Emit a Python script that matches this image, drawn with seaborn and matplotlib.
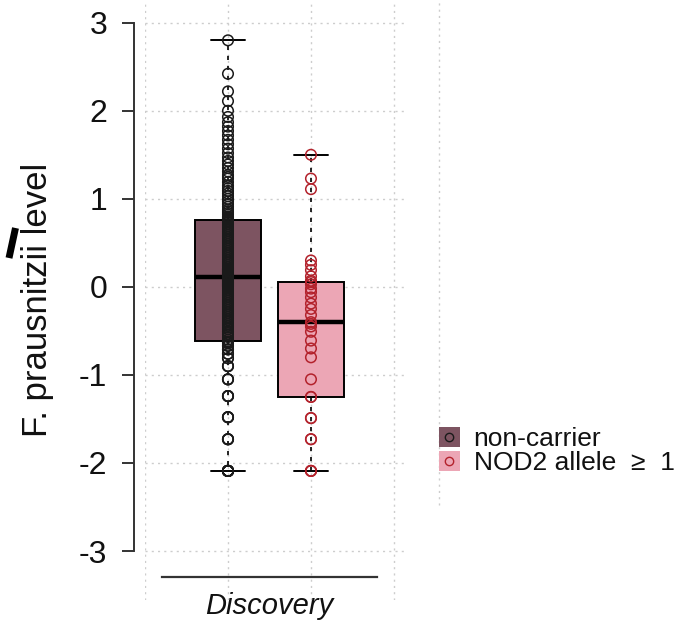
import matplotlib
matplotlib.use("Agg")
import matplotlib.pyplot as plt
from matplotlib.lines import Line2D
from matplotlib.patches import Patch
from matplotlib.legend_handler import HandlerTuple
import pandas as pd
import seaborn as sns

# ---- data -------------------------------------------------------------
cohort = "Discovery"
groups = ["non-carrier", "NOD2 allele  \u2265  1"]

non_carrier = [
    2.80, 2.42, 2.22, 2.11, 2.00, 1.93, 1.87, 1.82, 1.77, 1.72,
    1.67, 1.62, 1.57, 1.52, 1.47, 1.43, 1.39, 1.35, 1.31, 1.27,
    1.25, 1.23, 1.19, 1.15, 1.12, 1.09, 1.06, 1.03, 1.00, 0.97,
    0.94, 0.91, 0.88, 0.86, 0.84, 0.82, 0.80, 0.79, 0.78, 0.77,
    0.765,
    0.75, 0.73, 0.71, 0.69, 0.67, 0.65, 0.63, 0.61, 0.59, 0.57,
    0.55, 0.53, 0.51, 0.49, 0.47, 0.45, 0.43, 0.41, 0.39, 0.37,
    0.35, 0.33, 0.31, 0.29, 0.27, 0.25, 0.23, 0.21, 0.20, 0.19,
    0.18, 0.17, 0.16, 0.15, 0.14, 0.13, 0.125, 0.12, 0.115,
    0.11,
    0.10, 0.09, 0.08, 0.07, 0.06, 0.05, 0.04, 0.03, 0.02, 0.01,
    0.00, -0.02, -0.04, -0.06, -0.08, -0.10, -0.12, -0.14, -0.16, -0.18,
    -0.20, -0.22, -0.24, -0.26, -0.28, -0.30, -0.32, -0.34, -0.36, -0.38,
    -0.40, -0.42, -0.44, -0.46, -0.48, -0.51, -0.54, -0.57, -0.60,
    -0.62,
    -0.63, -0.64, -0.67, -0.67, -0.71, -0.71, -0.76, -0.76, -0.81, -0.81,
    -0.90, -0.90, -0.90, -1.05, -1.05, -1.05, -1.24, -1.24, -1.24, -1.24,
    -1.48, -1.48, -1.48, -1.48, -1.73, -1.73, -1.73, -1.73,
    -2.09, -2.09, -2.09, -2.09, -2.09, -2.09,
    -2.09, -2.09, -2.09, -2.09, -2.09, -2.09,
]

nod2_carrier = [
    1.50, 1.23, 1.11, 0.30, 0.25, 0.19, 0.12, 0.07,
    0.055,
    0.03, -0.02, -0.06, -0.12, -0.19, -0.25, -0.32,
    -0.40,
    -0.42, -0.45, -0.51, -0.61, -0.70, -0.80, -1.05,
    -1.25,
    -1.25, -1.49, -1.49, -1.73, -1.73, -2.09, -2.09, -2.09,
]

y_ticks = [-3, -2, -1, 0, 1, 2, 3]

# ---- styling ------------------------------------------------------------
box_fill = ["#7d5461", "#eca6b5"]
point_edge = ["#1a1a1a", "#b3222c"]
grid_color = "#cdcdcd"
grid_style = (0, (1.5, 3))
axis_color = "#333333"
text_color = "#111111"

sns.set_theme(style="ticks")
plt.rcParams["font.family"] = ["Liberation Sans", "DejaVu Sans"]
plt.rcParams["axes.unicode_minus"] = False

df = pd.DataFrame({
    "cohort": cohort,
    "genotype": [groups[0]] * len(non_carrier) + [groups[1]] * len(nod2_carrier),
    "level": non_carrier + nod2_carrier,
})

W, H = 677, 620
fig = plt.figure(figsize=(W / 100, H / 100), dpi=100)
ax = fig.add_axes([145 / W, 20 / H, 261 / W, 600 / H])

sns.boxplot(
    data=df, x="cohort", y="level", hue="genotype", hue_order=groups,
    palette=box_fill, saturation=1, width=0.8, gap=0.2, whis=(0, 100),
    showfliers=False, linecolor="black", linewidth=1.4,
    medianprops=dict(linewidth=3.2, color="black"),
    whiskerprops=dict(linestyle=(0, (2.5, 3.5)), linewidth=1.2),
    capprops=dict(linewidth=1.4),
    legend=False, ax=ax,
)
sns.stripplot(
    data=df, x="cohort", y="level", hue="genotype", hue_order=groups,
    palette=point_edge, dodge=True, jitter=False, size=7.6, linewidth=0,
    legend=False, ax=ax,
)
# hollow circles: outline in the group colour
for coll in ax.collections:
    fc = coll.get_facecolors()
    coll.set_edgecolors(fc)
    coll.set_facecolors("none")
    coll.set_linewidths(1.1)
    coll.set_zorder(3)

ax.set_xlim(-0.6, 0.658)
ax.set_ylim(-3.556, 3.258)
ax.set_yticks(y_ticks)
ax.set_yticklabels([str(t) for t in y_ticks])
ax.set_xticks([0])
ax.set_xticklabels([cohort])
ax.set_xticks([-0.6, -0.2, 0.2, 0.6], minor=True)
ax.set_xlabel("")
ax.set_ylabel("F. prausnitzii level", fontsize=25, color=text_color)
ax.yaxis.set_label_coords(-0.35, 0.5)

ax.grid(False)
ax.xaxis.grid(True, which="minor", color=grid_color, linestyle=grid_style, linewidth=1)
ax.yaxis.grid(True, which="major", color=grid_color, linestyle=grid_style, linewidth=1)
ax.set_axisbelow(True)

for side in ("top", "right"):
    ax.spines[side].set_visible(False)
ax.spines["left"].set_position(("outward", 7.9))
ax.spines["left"].set_bounds(-3, 3)
ax.spines["left"].set_color(axis_color)
ax.spines["left"].set_linewidth(1.4)
ax.spines["bottom"].set_position(("data", -3.30))
ax.spines["bottom"].set_bounds(-0.52, 0.52)
ax.spines["bottom"].set_color(axis_color)
ax.spines["bottom"].set_linewidth(1.6)

ax.tick_params(axis="y", which="major", left=True, direction="out", length=8.9,
               width=1.4, color=axis_color, pad=10.5, labelsize=23,
               labelcolor=text_color)
ax.tick_params(axis="x", which="both", bottom=True, length=0, pad=10.5,
               labelsize=21, labelcolor=text_color)
for lab in ax.get_xticklabels():
    lab.set_fontstyle("italic")

# faint guide line and margin mark
fig.add_artist(Line2D([439 / W, 439 / W], [1 - 505 / H, 1.0], transform=fig.transFigure,
                      color=grid_color, linestyle=grid_style, linewidth=1))
fig.add_artist(Line2D([15.5 / W, 9 / W], [1 - 228 / H, 1 - 258 / H], transform=fig.transFigure,
                      color="black", linewidth=5, solid_capstyle="butt"))

# legend: filled square with an open circle marker
handles = [
    (Patch(facecolor=box_fill[i], edgecolor="none"),
     Line2D([], [], marker="o", linestyle="", markersize=6,
            markerfacecolor="none", markeredgecolor=point_edge[i],
            markeredgewidth=1.0))
    for i in range(len(groups))
]
fig.legend(
    handles, groups, loc="upper left", bbox_to_anchor=(439 / W, 1 - 427 / H),
    frameon=False, fontsize=19, handlelength=0.78, handleheight=0.78,
    handletextpad=0.53, labelspacing=0.0, borderpad=0, borderaxespad=0,
    handler_map={tuple: HandlerTuple(ndivide=1, pad=0)},
    labelcolor=text_color,
)

fig.savefig("out.png", dpi=100)
